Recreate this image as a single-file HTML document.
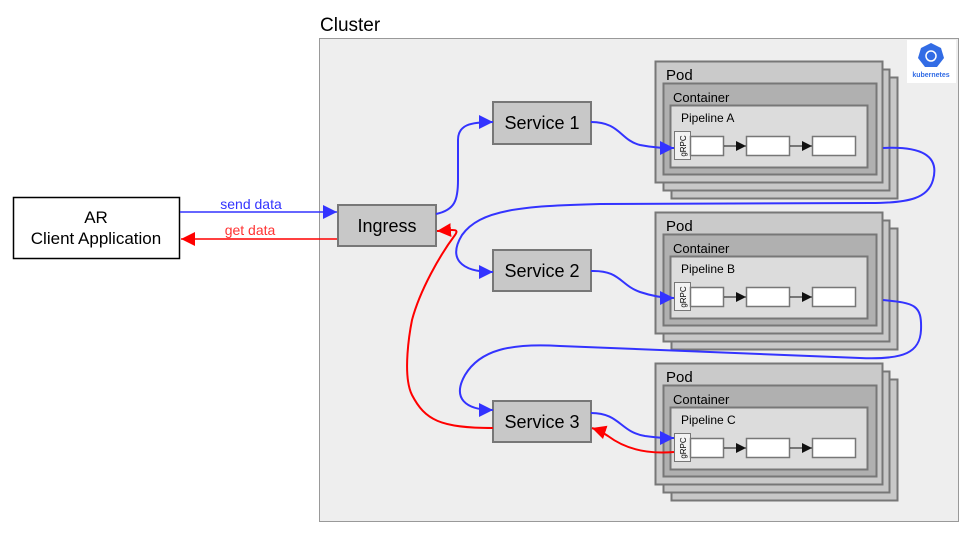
<!DOCTYPE html>
<html><head><meta charset="utf-8"><style>
body{margin:0;background:#fff;}
svg{display:block;font-family:"Liberation Sans",Arial,sans-serif;}
</style></head><body>
<svg width="978" height="542" viewBox="0 0 978 542" xmlns="http://www.w3.org/2000/svg">
<defs>
<marker id="ab" viewBox="0 0 10 10" refX="10" refY="5" markerWidth="8" markerHeight="8" markerUnits="userSpaceOnUse" orient="auto"><path d="M0,0L10,5L0,10z" fill="#3333ff"/></marker>
<marker id="abL" viewBox="0 0 10 10" refX="10" refY="5" markerWidth="14" markerHeight="14" markerUnits="userSpaceOnUse" orient="auto"><path d="M0,0L10,5L0,10z" fill="#3333ff"/></marker>
<marker id="ar" viewBox="0 0 10 10" refX="10" refY="5" markerWidth="14" markerHeight="14" markerUnits="userSpaceOnUse" orient="auto"><path d="M0,0L10,5L0,10z" fill="#ff0000"/></marker>
<marker id="ak" viewBox="0 0 10 10" refX="10" refY="5" markerWidth="10" markerHeight="10" markerUnits="userSpaceOnUse" orient="auto"><path d="M0,0L10,5L0,10z" fill="#111"/></marker>
<g id="pod">
  <rect x="671.5" y="77.5" width="226" height="121" fill="#c8c8c8" stroke="#777" stroke-width="2"/>
  <rect x="663.5" y="69.5" width="226" height="121" fill="#c8c8c8" stroke="#777" stroke-width="2"/>
  <rect x="655.5" y="61.5" width="227" height="121" fill="#cacaca" stroke="#777" stroke-width="2"/>
  <text x="666" y="80" font-size="15">Pod</text>
  <rect x="663.5" y="83.5" width="213" height="91" fill="#b0b0b0" stroke="#777" stroke-width="2"/>
  <text x="673" y="102" font-size="13">Container</text>
  <rect x="670.5" y="105.5" width="197" height="62" fill="#dcdcdc" stroke="#777" stroke-width="2"/>
  <rect x="674.5" y="131.5" width="16" height="28" fill="#f2f2f2" stroke="#777"/>
  <text transform="translate(686,146) rotate(-90)" font-size="8" text-anchor="middle">gRPC</text>
  <rect x="690.5" y="136.5" width="33" height="19" fill="#fff" stroke="#777" stroke-width="1.5"/>
  <rect x="746.5" y="136.5" width="43" height="19" fill="#fff" stroke="#777" stroke-width="1.5"/>
  <rect x="812.5" y="136.5" width="43" height="19" fill="#fff" stroke="#777" stroke-width="1.5"/>
  <line x1="724" y1="146" x2="746" y2="146" stroke="#111" stroke-width="1" marker-end="url(#ak)"/>
  <line x1="790" y1="146" x2="812" y2="146" stroke="#111" stroke-width="1" marker-end="url(#ak)"/>
</g>
</defs>
<text x="320" y="31" font-size="19">Cluster</text>
<rect x="319.5" y="38.5" width="639" height="483" fill="#eeeeee" stroke="#999"/>
<rect x="907" y="40" width="49" height="43" fill="#fff"/>
<path d="M931,43 L941,48 L944,58 L937,67 L925,67 L918,58 L921,48 Z" fill="#326ce5"/>
<circle cx="931" cy="56" r="5" fill="none" stroke="#fff" stroke-width="1.5"/>
<text x="931" y="77" font-size="7" fill="#326ce5" text-anchor="middle" font-weight="bold">kubernetes</text>

<use href="#pod"/>
<use href="#pod" y="151"/>
<use href="#pod" y="302"/>
<text x="681" y="122" font-size="12">Pipeline A</text>
<text x="681" y="273" font-size="12">Pipeline B</text>
<text x="681" y="424" font-size="12">Pipeline C</text>

<rect x="13.5" y="197.5" width="166" height="61" fill="#fff" stroke="#000" stroke-width="1.5"/>
<text x="96" y="223" font-size="17" text-anchor="middle">AR</text>
<text x="96" y="244" font-size="17" text-anchor="middle">Client Application</text>

<line x1="180" y1="212" x2="337" y2="212" stroke="#3333ff" stroke-width="1.5" marker-end="url(#abL)"/>
<text x="251" y="209" font-size="14" fill="#3333ff" text-anchor="middle">send data</text>
<line x1="338" y1="239" x2="181" y2="239" stroke="#ff0000" stroke-width="1.5" marker-end="url(#ar)"/>
<text x="250" y="235" font-size="14" fill="#ff3333" text-anchor="middle">get data</text>

<g fill="#c8c8c8" stroke="#777" stroke-width="2">
<rect x="338" y="205" width="98" height="41"/>
<rect x="493" y="102" width="98" height="42"/>
<rect x="493" y="250" width="98" height="41"/>
<rect x="493" y="401" width="98" height="41"/>
</g>
<g font-size="18" text-anchor="middle">
<text x="387" y="232">Ingress</text>
<text x="542" y="129">Service 1</text>
<text x="542" y="277">Service 2</text>
<text x="542" y="428">Service 3</text>
</g>

<g fill="none" stroke="#3333ff" stroke-width="2">
<path d="M436,214 C455,210 458,200 458,180 L458,140 C458,125 470,122 493,122" marker-end="url(#abL)"/>
<path d="M591,122 C620,122 620,140 640,145 C655,148 665,148 674,148" marker-end="url(#abL)"/>
<path d="M883,148 C920,146 940,155 933,180 C928,198 910,203 870,203 L600,204 C520,206 480,210 462,235 C448,258 460,272 493,272" marker-end="url(#abL)"/>
<path d="M591,271 C620,270 620,285 640,292 C655,297 665,298 674,298" marker-end="url(#abL)"/>
<path d="M883,300 C915,303 922,305 921,330 C920,352 905,360 860,358 L560,346 C510,343 480,350 465,375 C452,398 465,410 493,410" marker-end="url(#abL)"/>
<path d="M591,413 C620,413 620,432 645,436 C660,438 665,438 674,438" marker-end="url(#abL)"/>
</g>
<g fill="none" stroke="#ff0000" stroke-width="2">
<path d="M674,452 C640,455 620,445 608,436 C602,432 598,430 592,428" marker-end="url(#ar)"/>
<path d="M493,428 C440,428 425,420 412,395 C402,375 410,330 412,320 C420,290 440,255 455,235 C460,228 452,230 437,231" marker-end="url(#ar)"/>
</g>
</svg>
</body></html>
